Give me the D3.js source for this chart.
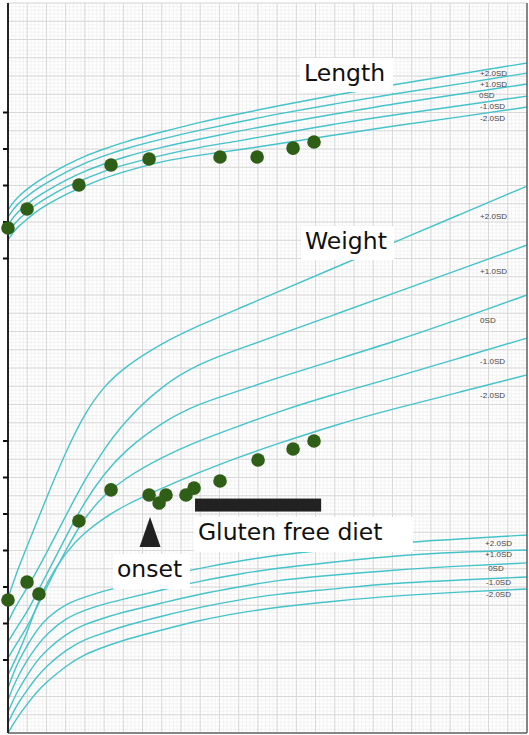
<!DOCTYPE html>
<html><head><meta charset="utf-8">
<script src="https://cdn.jsdelivr.net/npm/d3@7"></script>
<style>html,body{margin:0;padding:0;background:#fff;}svg{display:block;}</style>
</head><body>
<script>
// ---- Data (x: age in months, y: chart grid units) ----
const ages = [0,0.25,0.5,1,1.5,2,3,4,5,6,8,10,12,14,17,20,23.5,27];
const sdLabels = ["+2.0SD","+1.0SD","0SD","-1.0SD","-2.0SD"];

const lengthP2 = [28.66,29.04,29.37,29.81,30.19,30.52,31.12,31.62,32.0,32.38,32.93,33.48,33.92,34.36,34.96,35.51,36.11,36.71];
const lengthP1 = [28.27,28.66,28.99,29.42,29.81,30.14,30.74,31.23,31.62,32.0,32.55,33.04,33.48,33.92,34.47,35.01,35.56,36.16];
const length0  = [27.84,28.22,28.55,28.99,29.37,29.70,30.30,30.79,31.18,31.56,32.11,32.55,32.99,33.37,33.92,34.47,35.01,35.56];
const lengthM1 = [27.45,27.78,28.11,28.55,28.99,29.32,29.92,30.36,30.79,31.12,31.67,32.11,32.44,32.82,33.37,33.86,34.36,34.90];
const lengthM2 = [27.01,27.40,27.73,28.16,28.60,28.93,29.53,29.97,30.41,30.74,31.34,31.67,31.95,32.27,32.77,33.26,33.75,34.30];

const weightP2 = [7.40,8.16,8.93,10.25,11.56,12.88,15.40,17.55,19.00,20.0,21.37,22.36,23.26,24.15,25.50,26.84,28.41,29.97];
const weightP1 = [6.08,6.63,7.12,7.95,8.88,9.86,11.89,13.90,15.55,17.00,19.05,20.27,21.03,21.79,22.93,24.07,25.40,26.74];
const weight0  = [4.99,5.42,5.86,6.63,7.67,8.66,10.74,12.70,14.20,15.40,17.04,18.08,18.74,19.45,20.44,21.42,22.68,24.0];
const weightM1 = [4.11,4.55,4.99,5.81,6.90,7.95,10.03,11.84,13.04,13.90,15.12,16.05,16.82,17.59,18.58,19.45,20.55,21.64];
const weightM2 = [3.18,3.73,4.27,5.53,7.01,8.22,9.92,11.01,11.78,12.44,13.42,14.30,15.12,15.84,16.88,17.75,18.68,19.62];

const lowerP2 = [2.47,3.18,3.84,4.82,5.64,6.30,7.07,7.45,7.78,8.05,8.55,9.04,9.42,9.75,10.08,10.41,10.63,10.85];
const lowerP1 = [1.81,2.47,3.07,4.0,4.77,5.42,6.30,6.74,7.07,7.34,7.84,8.33,8.71,9.04,9.37,9.70,9.92,10.03];
const lower0  = [1.15,1.75,2.30,3.18,3.95,4.55,5.42,5.97,6.30,6.63,7.12,7.62,8.0,8.38,8.66,8.93,9.15,9.32];
const lowerM1 = [0.55,1.10,1.59,2.36,3.07,3.67,4.55,5.15,5.48,5.86,6.41,6.90,7.29,7.62,7.89,8.22,8.38,8.55];
const lowerM2 = [0.0,0.44,0.88,1.59,2.25,2.79,3.67,4.33,4.71,5.10,5.64,6.19,6.58,6.90,7.23,7.51,7.73,7.89];

const lengthAges   = [0,0.99,3.69,5.36,7.34,11.03,12.96,14.83,15.92];
const lengthValues = [27.67,28.71,30.03,31.12,31.45,31.56,31.56,32.05,32.38];
const weightAges   = [0,0.99,1.61,3.69,5.36,7.34,7.86,8.22,9.26,9.68,11.03,13.01,14.83,15.92];
const weightValues = [7.29,8.27,7.62,11.62,13.32,13.04,12.60,13.04,13.04,13.42,13.81,14.96,15.56,16.0];

const upperTicks = [26,28,30,32,34];
const lowerTicks = [4,6,8,10,12,14,16];

// SD label placement (data units)
const lengthLabelX = [24.56,24.56,24.5,24.56,24.56];
const lengthLabelY = [36.0,35.4,34.82,34.19,33.56];
const weightLabelX = [24.56,24.56,24.56,24.56,24.56];
const weightLabelY = [28.16,25.15,22.47,20.22,18.36];
const lowerLabelX  = [24.82,24.82,24.98,24.87,24.87];
const lowerLabelY  = [10.25,9.64,8.88,8.11,7.45];

// Annotations (data units)
const glutenStart = 9.73, glutenEnd = 16.29, glutenLevel = 12.49;
const onsetAge = 7.39;

// ---- Drawing ----
const W = 529, H = 735;
const x = d3.scaleLinear().domain([0,27]).range([8,527]);
const y = d3.scaleLinear().domain([0,40]).range([733,3]);
const svg = d3.select("body").append("svg").attr("width",W).attr("height",H);
svg.append("rect").attr("width",W).attr("height",H).attr("fill","#fff");

const g = svg.append("g");
// minor grid
const minorX = d3.range(0, 27.0001, 0.2), minorY = d3.range(0, 40.0001, 0.2);
g.selectAll(".mx").data(minorX).join("line")
  .attr("x1",d=>x(d)).attr("x2",d=>x(d)).attr("y1",y(0)).attr("y2",y(40))
  .attr("stroke","#f0f0f0").attr("stroke-width",0.8);
g.selectAll(".my").data(minorY).join("line")
  .attr("y1",d=>y(d)).attr("y2",d=>y(d)).attr("x1",x(0)).attr("x2",x(27))
  .attr("stroke","#f0f0f0").attr("stroke-width",0.8);
// major grid
g.append("g").selectAll("line").data(d3.range(0,28,1)).join("line")
  .attr("x1",d=>x(d)).attr("x2",d=>x(d)).attr("y1",y(0)).attr("y2",y(40))
  .attr("stroke","#d8d8d8").attr("stroke-width",1);
g.append("g").selectAll("line").data(d3.range(0,41,1)).join("line")
  .attr("y1",d=>y(d)).attr("y2",d=>y(d)).attr("x1",x(0)).attr("x2",x(27))
  .attr("stroke","#d8d8d8").attr("stroke-width",1);

// curves
const line = d3.line().x((d,i)=>x(ages[i])).y(d=>y(d)).curve(d3.curveBasis);
const curves = [lengthP2,lengthP1,length0,lengthM1,lengthM2,
                weightP2,weightP1,weight0,weightM1,weightM2,
                lowerP2,lowerP1,lower0,lowerM1,lowerM2];
svg.append("g").selectAll("path").data(curves).join("path")
  .attr("d",d=>line(d)).attr("fill","none")
  .attr("stroke","#45c3cb").attr("stroke-width",1.4);

// SD labels
function sdText(xs, ys){
  svg.append("g").selectAll("text").data(sdLabels).join("text")
    .attr("x",(d,i)=>x(xs[i])).attr("y",(d,i)=>y(ys[i]))
    .attr("font-family","Liberation Sans, Arial, sans-serif").attr("font-size",8)
    .attr("fill","#444").text(d=>d);
}
sdText(lengthLabelX,lengthLabelY);
sdText(weightLabelX,weightLabelY);
sdText(lowerLabelX,lowerLabelY);

// borders and axis
svg.append("line").attr("x1",x(27)).attr("x2",x(27)).attr("y1",y(40)).attr("y2",y(0))
  .attr("stroke","#666").attr("stroke-width",1.5);
svg.append("line").attr("x1",x(0)).attr("x2",x(27)).attr("y1",y(0)).attr("y2",y(0))
  .attr("stroke","#666").attr("stroke-width",1.5);
svg.append("line").attr("x1",x(0)).attr("x2",x(0)).attr("y1",y(40)).attr("y2",y(0))
  .attr("stroke","#222").attr("stroke-width",2);
svg.append("g").selectAll("line").data(upperTicks.concat(lowerTicks)).join("line")
  .attr("x1",x(0)-5).attr("x2",x(0)).attr("y1",d=>y(d)).attr("y2",d=>y(d))
  .attr("stroke","#111").attr("stroke-width",2);

// dots
const dotColor = "#2f5f17";
svg.append("g").selectAll("circle").data(lengthValues).join("circle")
  .attr("cx",(d,i)=>x(lengthAges[i])).attr("cy",d=>y(d)).attr("r",6.8).attr("fill",dotColor);
svg.append("g").selectAll("circle").data(weightValues).join("circle")
  .attr("cx",(d,i)=>x(weightAges[i])).attr("cy",d=>y(d)).attr("r",6.8).attr("fill",dotColor);

// annotation boxes with text
const font = "DejaVu Sans, Verdana, sans-serif";
function label(txt, xm, ym, boxW, boxH){
  const tx = x(xm), ty = y(ym);
  svg.append("rect").attr("x",tx-4).attr("y",ty-23).attr("width",boxW).attr("height",boxH).attr("fill","#fff");
  svg.append("text").attr("x",tx).attr("y",ty).attr("font-family",font).attr("font-size",23.5)
    .attr("fill","#111").text(txt);
}
label("Length", 15.4, 35.725, 93, 34);
label("Weight", 15.45, 26.525, 93, 34);
label("Gluten free diet", 9.88, 10.575, 219, 35);
label("onset", 5.67, 8.55, 77, 35);

// gluten free bar
svg.append("rect").attr("x",x(glutenStart)).attr("y",y(glutenLevel)-6.5)
  .attr("width",x(glutenEnd)-x(glutenStart)).attr("height",13).attr("fill","#222");
// onset triangle
const tx = x(onsetAge), ty = y(glutenLevel);
svg.append("path").attr("d",`M${tx},${ty+12}L${tx+10.5},${ty+42}L${tx-10.5},${ty+42}Z`).attr("fill","#222");
</script>
</body></html>
